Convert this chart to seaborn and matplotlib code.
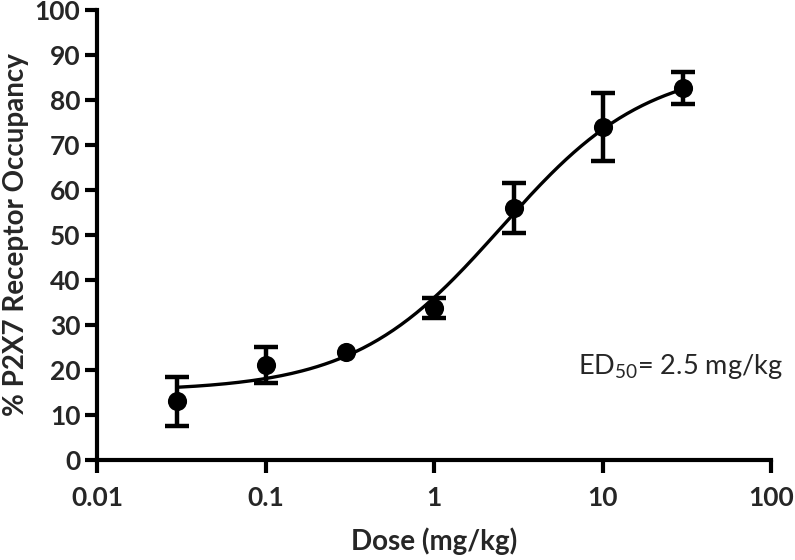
import numpy as np
import pandas as pd
import matplotlib
matplotlib.use("Agg")
import matplotlib.pyplot as plt
import seaborn as sns

# mesures (dose en mg/kg, occupation moyenne, erreur)
# l'erreur a 0.3 mg/kg est plus petite que le symbole : pas de barre dessinee
doses = [0.03, 0.1, 0.3, 1, 3, 10, 30]
occupation = [13.0, 21.2, 24.0, 33.8, 56.0, 74.0, 82.7]
erreur = [5.5, 4.0, 0.0, 2.3, 5.5, 7.5, 3.5]

# parametres de l'ajustement sigmoide
bas = 15.3
haut = 88.0
ed50 = 2.5
pente_hill = 1.0

x_ticks = [0.01, 0.1, 1, 10, 100]
x_tick_labels = ["0.01", "0.1", "1", "10", "100"]
y_ticks = list(range(0, 101, 10))


def courbe_ajustee():
    x = np.logspace(np.log10(doses[0]), np.log10(doses[-1]), 200)
    y = bas + (haut - bas) / (1 + (ed50 / x) ** pente_hill)
    return pd.DataFrame({"dose": x, "occ": y})


def main():
    sns.set_style("white")
    plt.rcParams["font.family"] = ["Lato", "DejaVu Sans"]
    plt.rcParams["mathtext.fontset"] = "custom"
    plt.rcParams["mathtext.rm"] = "Lato"
    plt.rcParams["mathtext.it"] = "Lato:italic"

    fig = plt.figure(figsize=(7.95, 5.6), dpi=100)
    ax = fig.add_axes([0.122, 0.1786, 0.848, 0.8036])

    df = pd.DataFrame({"dose": doses, "occ": occupation, "err": erreur})
    avec_barre = df[df["err"] > 0]

    sns.lineplot(data=courbe_ajustee(), x="dose", y="occ", color="black", linewidth=2.4, ax=ax)
    ax.errorbar(avec_barre["dose"], avec_barre["occ"], yerr=avec_barre["err"], fmt="none",
                ecolor="black", elinewidth=3.2, capsize=8.5, capthick=3.2, zorder=3)
    sns.scatterplot(data=df, x="dose", y="occ", color="black", s=190, edgecolor="black",
                    linewidth=0, zorder=4, ax=ax)

    ax.set_xscale("log")
    ax.set_xlim(0.01, 100)
    ax.set_ylim(0, 100)
    ax.set_xticks(x_ticks)
    ax.set_xticklabels(x_tick_labels)
    ax.set_yticks(y_ticks)
    ax.minorticks_off()

    for cote in ["top", "right"]:
        ax.spines[cote].set_visible(False)
    for cote in ["left", "bottom"]:
        ax.spines[cote].set_linewidth(3)
        ax.spines[cote].set_color("black")

    ax.tick_params(axis="both", which="major", direction="out", length=9, width=3,
                   color="black", labelsize=19, pad=3, bottom=True, left=True)
    for lab in ax.get_xticklabels() + ax.get_yticklabels():
        lab.set_fontweight("bold")
    ax.tick_params(axis="x", pad=10)

    ax.set_xlabel("Dose (mg/kg)", fontsize=20, fontweight="bold", labelpad=12)
    ax.set_ylabel("% P2X7 Receptor Occupancy", fontsize=20, fontweight="bold", labelpad=4)

    ax.text(7.1, 20.7, "ED$_{50}$= 2.5 mg/kg", fontsize=19.5, va="center", ha="left")

    fig.savefig("out.png", dpi=100)
    plt.close(fig)


if __name__ == "__main__":
    main()
